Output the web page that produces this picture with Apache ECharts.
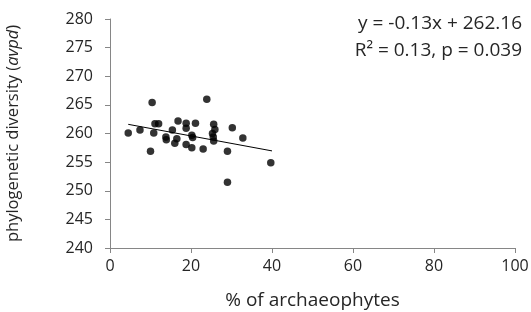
<!DOCTYPE html>
<html>
<head>
<meta charset="utf-8">
<script src="https://cdn.jsdelivr.net/npm/echarts@6/dist/echarts.min.js"></script>
<style>
html, body { margin: 0; padding: 0; background: #fff; }
#chart { width: 531px; height: 312px; }
</style>
</head>
<body>
<div id="chart"></div>
<script>
// archaeophyte % per site
var pctArch = [4.5, 7.4, 10.4, 10.0, 10.8, 11.1, 12.0, 13.8, 13.9, 15.4, 16.0,
	16.5, 16.8, 18.8, 18.8, 18.8, 20.2, 20.4, 20.2, 21.1, 23.0, 23.9,
	25.6, 25.9, 25.3, 25.5, 25.6, 29.0, 29.0, 30.2, 32.8, 39.7];
// avpd per site
var avpd = [260.1, 260.6, 265.4, 256.9, 260.1, 261.7, 261.7, 259.4, 258.9, 260.6, 258.3,
	259.1, 262.2, 261.8, 260.9, 258.1, 259.7, 259.3, 257.5, 261.8, 257.3, 266.0,
	261.6, 260.7, 260.0, 259.4, 258.7, 256.9, 251.5, 261.0, 259.2, 254.9];
// fitted line ends
var trendX = [4.5, 40];
var trendY = [261.6, 256.96];

var xTicks = [0, 20, 40, 60, 80, 100];
var yTicks = [240, 245, 250, 255, 260, 265, 270, 275, 280];

var font = '"Open Sans", sans-serif';
var txt = '#262626';

var chart = echarts.init(document.getElementById('chart'));

var pts = pctArch.map(function(x, i) { return [x, avpd[i]]; });
var line = trendX.map(function(x, i) { return [x, trendY[i]]; });

chart.setOption({
	animation: false,
	grid: { left: 110, right: 16, top: 19, bottom: 64, outerBoundsMode: 'none' },
	xAxis: {
		type: 'value',
		min: xTicks[0],
		max: xTicks[xTicks.length - 1],
		interval: 20,
		name: '% of archaeophytes',
		nameLocation: 'middle',
		nameGap: 43,
		nameTextStyle: { fontFamily: font, fontSize: 19, color: txt },
		axisLine: { lineStyle: { color: '#868686', width: 1 } },
		axisTick: { show: true, length: 5, lineStyle: { color: '#868686' } },
		axisLabel: { fontFamily: font, fontSize: 16, color: txt, margin: 10 },
		splitLine: { show: false }
	},
	yAxis: {
		type: 'value',
		min: yTicks[0],
		max: yTicks[yTicks.length - 1],
		interval: 5,
		name: '{n|phylogenetic diversity (}{i|avpd}{n|)}',
		nameLocation: 'middle',
		nameRotate: 90,
		nameGap: 88,
		nameTextStyle: {
			rich: {
				n: { fontFamily: font, fontSize: 16.5, color: txt },
				i: { fontFamily: font, fontSize: 16.5, color: txt, fontStyle: 'italic' }
			}
		},
		axisLine: { show: true, lineStyle: { color: '#868686', width: 1 } },
		axisTick: { show: true, length: 5, lineStyle: { color: '#868686' } },
		axisLabel: { fontFamily: font, fontSize: 16, color: txt, margin: 17 },
		splitLine: { show: false }
	},
	graphic: [
		{
			type: 'text', right: 9, top: 14,
			style: { text: 'y = -0.13x + 262.16', font: '19px ' + font, fill: txt }
		},
		{
			type: 'text', right: 9, top: 41,
			style: { text: 'R² = 0.13, p = 0.039', font: '19px ' + font, fill: txt }
		}
	],
	series: [
		{
			type: 'scatter',
			data: pts,
			symbol: 'circle',
			symbolSize: 7.5,
			itemStyle: { color: '#000' },
			z: 3
		},
		{
			type: 'line',
			data: line,
			symbol: 'none',
			lineStyle: { color: '#000', width: 1 },
			z: 2
		}
	]
});
</script>
</body>
</html>
